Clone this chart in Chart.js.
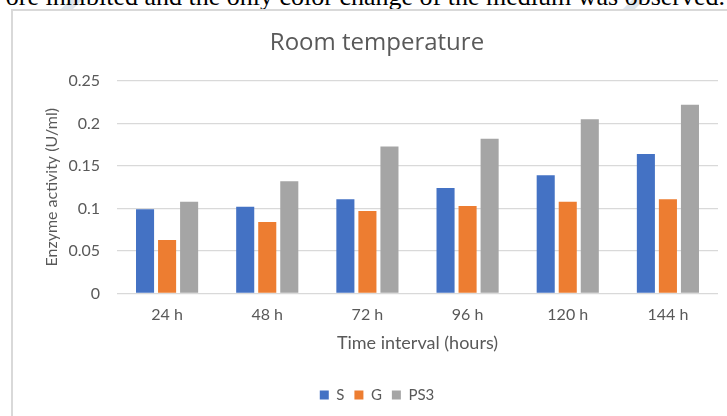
<!DOCTYPE html>
<html>
<head>
<meta charset="utf-8">
<script src="https://cdn.jsdelivr.net/npm/chart.js@4.4.1/dist/chart.umd.min.js"></script>
<style>
  html, body { margin: 0; padding: 0; background: #ffffff; }
  body { width: 727px; height: 416px; overflow: hidden; position: relative; }
  .page-line {
    position: absolute; right: 2px; top: -16px;
    font-family: "Liberation Serif", "Times New Roman", serif;
    font-size: 26px; line-height: 26px; color: #000;
    white-space: nowrap;
  }
  .mark {
    position: absolute; top: -4px; width: 12px; height: 16px;
    background: #dfe5ec; transform: skewX(-45deg);
  }
  .frame {
    position: absolute; left: 11px; top: 9px; width: 760px; height: 420px;
    border: 2px solid #d9d9d9; background: #fff; box-sizing: border-box;
  }
  #wrap { position: absolute; left: 13px; top: 11px; width: 728px; height: 405px; }
</style>
</head>
<body>
<div class="mark" style="left:66px"></div>
<div class="mark" style="left:628px"></div>
<div class="page-line">ore inhibited and the only color change of the medium was observed.</div>
<div class="frame"></div>
<div id="wrap"><canvas id="chart" width="728" height="405"></canvas></div>
<script>
// Sampling times and enzyme activity (U/ml) for each strain
const categories = ['24 h', '48 h', '72 h', '96 h', '120 h', '144 h'];
const seriesS   = [0.099, 0.102, 0.111, 0.124, 0.139, 0.164];
const seriesG   = [0.063, 0.084, 0.097, 0.103, 0.108, 0.111];
const seriesPS3 = [0.108, 0.132, 0.173, 0.182, 0.205, 0.222];
const yTickLabels = ['0', '0.05', '0.1', '0.15', '0.2', '0.25'];

const textColor = '#595959';
const gridColor = '#d9d9d9';
const bodyFont = 'Lato, "Open Sans", sans-serif';

new Chart(document.getElementById('chart'), {
  type: 'bar',
  data: {
    labels: categories,
    datasets: [
      { label: 'S',   data: seriesS,   backgroundColor: '#4472C4' },
      { label: 'G',   data: seriesG,   backgroundColor: '#ED7D31' },
      { label: 'PS3', data: seriesPS3, backgroundColor: '#A5A5A5' }
    ]
  },
  options: {
    responsive: false,
    animation: false,
    layout: { padding: { left: 23, right: 23, top: 0, bottom: 3.5 } },
    datasets: { bar: { categoryPercentage: 0.66, barPercentage: 0.82 } },
    plugins: {
      tooltip: { enabled: false },
      title: {
        display: true,
        text: 'Room temperature',
        color: textColor,
        font: { family: '"Open Sans", sans-serif', size: 24, weight: 'normal', lineHeight: 1.2 },
        padding: { top: 17.6, bottom: 23.6 }
      },
      legend: {
        position: 'bottom',
        labels: {
          color: textColor,
          font: { family: bodyFont, size: 15 },
          boxWidth: 9, boxHeight: 9,
          padding: 10
        }
      }
    },
    scales: {
      x: {
        grid: { display: false, drawTicks: false },
        border: { display: false },
        ticks: { color: textColor, font: { family: bodyFont, size: 16 }, padding: 12 },
        title: {
          display: true, text: 'Time interval (hours)', color: textColor,
          font: { family: bodyFont, size: 18, lineHeight: 1.2 },
          padding: { top: 4, bottom: 23.7 }
        },
        afterFit: (s) => { s.height = 84; }
      },
      y: {
        min: 0, max: 0.25,
        grid: { color: gridColor, lineWidth: 1.3, drawTicks: false },
        border: { display: false },
        ticks: {
          stepSize: 0.05, color: textColor, padding: 17,
          font: { family: bodyFont, size: 16 },
          callback: (v, i) => yTickLabels[i]
        },
        title: {
          display: true, text: 'Enzyme activity (U/ml)', color: textColor,
          font: { family: bodyFont, size: 16, lineHeight: 1.2 },
          padding: { top: 6.4, bottom: 0 }
        },
        afterFit: (s) => { s.width = 81; }
      }
    }
  }
});
</script>
</body>
</html>
